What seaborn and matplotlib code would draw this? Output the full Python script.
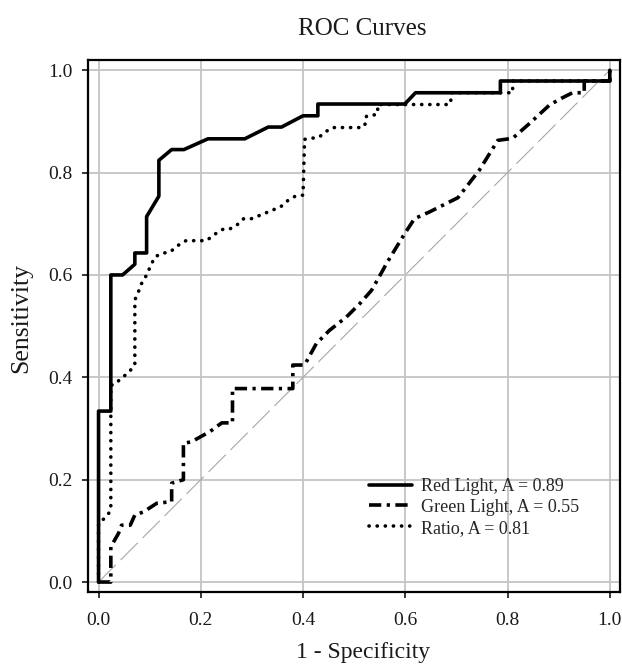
import matplotlib
matplotlib.use("Agg")
import matplotlib.pyplot as plt
import seaborn as sns

# ROC points (false positive rate, true positive rate)
red_fpr = [0, 0, 0.024, 0.024, 0.047, 0.071, 0.071, 0.094, 0.094, 0.118, 0.118, 0.143, 0.167,
           0.214, 0.286, 0.332, 0.358, 0.400, 0.429, 0.429, 0.599, 0.620, 0.786, 0.786, 1.0, 1.0]
red_tpr = [0, 0.334, 0.334, 0.600, 0.600, 0.621, 0.643, 0.643, 0.714, 0.754, 0.824, 0.845, 0.845,
           0.866, 0.866, 0.889, 0.889, 0.911, 0.911, 0.934, 0.934, 0.956, 0.956, 0.979, 0.979, 1.0]

green_fpr = [0, 0.024, 0.024, 0.039, 0.045, 0.062, 0.071, 0.088, 0.114, 0.143, 0.143, 0.166, 0.166,
             0.182, 0.198, 0.218, 0.241, 0.262, 0.262, 0.380, 0.380, 0.403, 0.426, 0.452, 0.485,
             0.511, 0.534, 0.556, 0.563, 0.599, 0.618, 0.647, 0.703, 0.745, 0.781, 0.810, 0.843,
             0.882, 0.905, 0.927, 0.950, 0.950, 1.0, 1.0]
green_tpr = [0, 0, 0.069, 0.095, 0.111, 0.111, 0.131, 0.137, 0.154, 0.157, 0.193, 0.200, 0.271,
             0.274, 0.283, 0.294, 0.311, 0.311, 0.378, 0.378, 0.424, 0.424, 0.466, 0.492, 0.518,
             0.544, 0.570, 0.609, 0.622, 0.681, 0.710, 0.723, 0.751, 0.805, 0.863, 0.867, 0.896,
             0.932, 0.945, 0.956, 0.956, 0.979, 0.979, 1.0]

ratio_fpr = [0, 0, 0.016, 0.024, 0.024, 0.029, 0.045, 0.060, 0.071, 0.071, 0.078, 0.084, 0.094,
             0.101, 0.110, 0.123, 0.140, 0.156, 0.171, 0.211, 0.228, 0.243, 0.255, 0.270, 0.284,
             0.299, 0.312, 0.341, 0.356, 0.371, 0.385, 0.400, 0.403, 0.416, 0.431, 0.446, 0.459,
             0.517, 0.524, 0.524, 0.537, 0.546, 0.546, 0.687, 0.690, 0.690, 0.810, 0.810, 1.0, 1.0]
ratio_tpr = [0, 0.115, 0.128, 0.141, 0.385, 0.385, 0.398, 0.411, 0.424, 0.551, 0.567, 0.583, 0.600,
             0.616, 0.635, 0.642, 0.645, 0.658, 0.667, 0.667, 0.680, 0.689, 0.689, 0.697, 0.710,
             0.710, 0.715, 0.727, 0.733, 0.746, 0.754, 0.756, 0.865, 0.867, 0.869, 0.881, 0.888,
             0.888, 0.899, 0.910, 0.912, 0.915, 0.933, 0.933, 0.945, 0.956, 0.956, 0.979, 0.979, 1.0]

labels = ["Red Light, A = 0.89", "Green Light, A = 0.55", "Ratio, A = 0.81"]
ticks = [0.0, 0.2, 0.4, 0.6, 0.8, 1.0]

sns.set_theme(style="whitegrid")
plt.rcParams["font.family"] = ["Liberation Serif", "DejaVu Serif"]

fig, ax = plt.subplots(figsize=(6.22, 6.69), dpi=100)
fig.subplots_adjust(left=0.142, right=0.9968, bottom=0.1147, top=0.9103)

# chance line
sns.lineplot(x=[0, 1], y=[0, 1], ax=ax, color="#a8a8a8", linewidth=0.8,
             linestyle=(0, (22, 6)), estimator=None, sort=False)

lw = 2.6
sns.lineplot(x=red_fpr, y=red_tpr, ax=ax, color="black", linewidth=lw,
             estimator=None, sort=False, label=labels[0])
sns.lineplot(x=green_fpr, y=green_tpr, ax=ax, color="black", linewidth=lw,
             linestyle=(0, (3.4, 1.5, 0.9, 1.5)), dash_capstyle="butt",
             estimator=None, sort=False, label=labels[1])
sns.lineplot(x=ratio_fpr, y=ratio_tpr, ax=ax, color="black", linewidth=lw,
             linestyle=(0, (0.05, 2.2)), dash_capstyle="round",
             estimator=None, sort=False, label=labels[2])

ax.set_xlim(-0.02, 1.02)
ax.set_ylim(-0.02, 1.02)
ax.set_xticks(ticks)
ax.set_yticks(ticks)
ax.set_xticklabels([f"{t:.1f}" for t in ticks])
ax.set_yticklabels([f"{t:.1f}" for t in ticks])

ax.grid(True, color="#c4c4c4", linewidth=1.3)
for s in ax.spines.values():
    s.set_color("black")
    s.set_linewidth(1.6)
ax.tick_params(axis="both", which="major", direction="out", length=4, width=1.1,
               color="black", labelsize=14, labelcolor="#1a1a1a")
ax.tick_params(axis="x", pad=10, bottom=True)
ax.tick_params(axis="y", pad=7.5, left=True)

ax.set_title("ROC Curves", fontsize=18, pad=18, x=0.516, color="#1a1a1a")
ax.set_xlabel("1 - Specificity", fontsize=17, color="#1a1a1a")
ax.set_ylabel("Sensitivity", fontsize=18.5, color="#1a1a1a")
ax.xaxis.set_label_coords(0.516, -0.093)
ax.yaxis.set_label_coords(-0.105, 0.515)

ax.legend(loc="upper left", bbox_to_anchor=(0.528, 0.215), frameon=False,
          fontsize=13, handlelength=2.4, handletextpad=0.5, labelspacing=0.22,
          borderpad=0, borderaxespad=0)

plt.savefig("out.png", dpi=100)
